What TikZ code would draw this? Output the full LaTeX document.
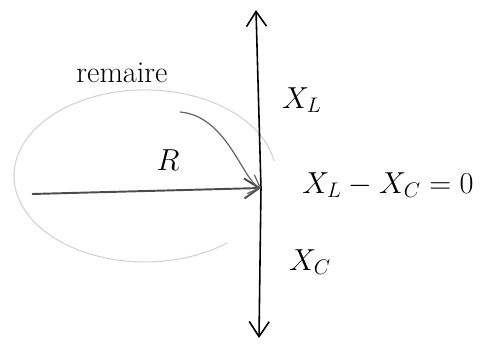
\documentclass[tikz,border=0pt]{standalone}
\usetikzlibrary{arrows.meta}
\begin{document}
\begin{tikzpicture}[
    axis/.style={draw, line width=0.9pt, -{Straight Barb[length=3mm,width=4mm]}},
    lbl/.style={font=\LARGE, inner sep=1pt},
    hand/.style={draw=gray!35, line width=0.6pt}
]
    \useasboundingbox (0,0) rectangle (9.8,6.92);
    \coordinate (O) at (5.22,3.16);
    \coordinate (top) at (5.12,6.72);
    \coordinate (bot) at (5.18,0.16);
    \coordinate (start) at (0.64,3.04);
    \coordinate (bend) at (3.6,4.68);

    \node[lbl] (remaire) at (2.44,5.46) {remaire};
    \node[lbl] (R) at (3.36,3.72) {$R$};
    \node[lbl] (XL) at (6.04,4.92) {$X_L$};
    \node[lbl] (eq) at (7.76,3.22) {$X_L - X_C = 0$};
    \node[lbl] (XC) at (6.2,1.68) {$X_C$};

    \draw[hand] (5.48,3.70) arc[start angle=10, end angle=309, x radius=2.62, y radius=1.72];
    \draw[axis] (O) -- (top);
    \draw[axis] (O) -- (bot);
    \draw[axis, draw=black!70, line width=1.1pt] (start) -- (O);
    \draw[draw=black!60, line width=0.7pt, -{Straight Barb[length=2mm]}] (bend) .. controls (4.55,4.6) and (4.85,3.3) .. (O);
\end{tikzpicture}
\end{document}
